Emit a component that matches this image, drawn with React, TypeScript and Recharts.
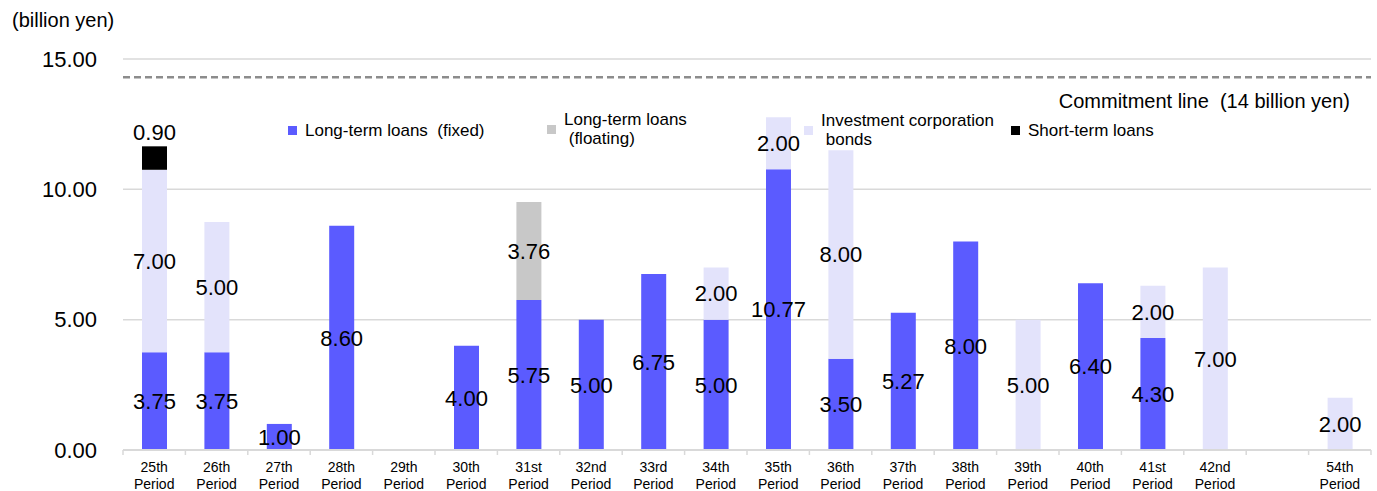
import { BarChart, Bar, XAxis, YAxis, CartesianGrid, ReferenceLine, LabelList } from 'recharts';

// period labels (blank slot between 42nd and 54th, as in the original)
const periods = ['25th', '26th', '27th', '28th', '29th', '30th', '31st', '32nd', '33rd', '34th',
  '35th', '36th', '37th', '38th', '39th', '40th', '41st', '42nd', '', '54th'];

// billion yen per period
const fixedLoans = [3.75, 3.75, 1.0, 8.6, null, 4.0, 5.75, 5.0, 6.75, 5.0,
  10.77, 3.5, 5.27, 8.0, null, 6.4, 4.3, null, null, null];
const floatingLoans = [null, null, null, null, null, null, 3.76, null, null, null,
  null, null, null, null, null, null, null, null, null, null];
const corporationBonds = [7.0, 5.0, null, null, null, null, null, null, null, 2.0,
  2.0, 8.0, null, null, 5.0, null, 2.0, 7.0, null, 2.0];
const shortTermLoans = [0.9, null, null, null, null, null, null, null, null, null,
  null, null, null, null, null, null, null, null, null, null];

const yTicks = [0, 5, 10, 15];
// the original draws the commitment line a little above the 14 mark
const commitmentLine = 14.3;

const FONT = '"Liberation Sans", Arial, sans-serif';
const W = 1377;
const H = 491;
const Y_AXIS_W = 123;
const RIGHT = 6;
const BAND = (W - Y_AXIS_W - RIGHT) / periods.length;

const colors = {
  fixed: '#5B5BFF',
  floating: '#C8C8C8',
  bonds: '#E3E3FB',
  short: '#000000',
};

const chartData = periods.map((p, i) => ({
  period: p,
  fixed: fixedLoans[i],
  floating: floatingLoans[i],
  bonds: corporationBonds[i],
  short: shortTermLoans[i],
}));

const fmt = (v: any) => (v == null ? '' : Number(v).toFixed(2));

function PeriodTick(props: any) {
  const { x, y, payload, index } = props;
  const last = index === periods.length - 1;
  return (
    <g>
      <line x1={x - BAND / 2} x2={x - BAND / 2} y1={y} y2={y + 5} stroke="#D9D9D9" strokeWidth={1.5} />
      {last && <line x1={x + BAND / 2} x2={x + BAND / 2} y1={y} y2={y + 5} stroke="#D9D9D9" strokeWidth={1.5} />}
      {payload.value && (
        <text x={x} y={y} textAnchor="middle" fontSize={14} fontFamily={FONT} fill="#000">
          <tspan x={x} dy={22}>{payload.value}</tspan>
          <tspan x={x} dy={17}>Period</tspan>
        </text>
      )}
    </g>
  );
}

function CommitmentLabel(props: any) {
  const { viewBox } = props;
  return (
    <text
      x={viewBox.x + viewBox.width - 21}
      y={viewBox.y + 31}
      textAnchor="end"
      fontSize={20}
      fontFamily={FONT}
      fill="#000"
    >
      {'Commitment line\u00a0\u00a0(14 billion yen)'}
    </text>
  );
}

const legendItems = [
  { lines: ['Long-term loans  (fixed)'], color: colors.fixed, left: 288, top: 121 },
  { lines: ['Long-term loans', '\u00a0(floating)'], color: colors.floating, left: 547, top: 110 },
  { lines: ['Investment corporation', '\u00a0bonds'], color: colors.bonds, left: 804, top: 111 },
  { lines: ['Short-term loans'], color: colors.short, left: 1011, top: 121 },
];

export default function App() {
  return (
    <div style={{ position: 'relative', width: W, height: H, fontFamily: FONT }}>
      <style>{'body{margin:0}'}</style>
      <BarChart
        width={W}
        height={H}
        data={chartData}
        margin={{ top: 59, right: RIGHT, left: 0, bottom: 0 }}
        barSize={25}
      >
        <CartesianGrid vertical={false} stroke="#D9D9D9" strokeWidth={1.5} />
        <XAxis
          dataKey="period"
          interval={0}
          height={41}
          tickSize={0}
          tickMargin={0}
          axisLine={{ stroke: '#D9D9D9', strokeWidth: 2 }}
          tick={<PeriodTick />}
        />
        <YAxis
          width={Y_AXIS_W}
          domain={[0, 15]}
          ticks={yTicks}
          axisLine={false}
          tickLine={false}
          tickMargin={20}
          tickFormatter={(v) => Number(v).toFixed(2)}
          tick={{ fontSize: 22, fill: '#000', fontFamily: FONT }}
        />
        <ReferenceLine
          y={commitmentLine}
          stroke="#8C8C8C"
          strokeWidth={2.5}
          strokeDasharray="7 4"
          label={<CommitmentLabel />}
        />
        <Bar dataKey="fixed" stackId="a" fill={colors.fixed} isAnimationActive={false}>
          <LabelList dataKey="fixed" position="center" formatter={fmt} fontSize={22} fill="#000" fontFamily={FONT} />
        </Bar>
        <Bar dataKey="floating" stackId="a" fill={colors.floating} isAnimationActive={false}>
          <LabelList dataKey="floating" position="center" formatter={fmt} fontSize={22} fill="#000" fontFamily={FONT} />
        </Bar>
        <Bar dataKey="bonds" stackId="a" fill={colors.bonds} isAnimationActive={false}>
          <LabelList dataKey="bonds" position="center" formatter={fmt} fontSize={22} fill="#000" fontFamily={FONT} />
        </Bar>
        <Bar dataKey="short" stackId="a" fill={colors.short} isAnimationActive={false}>
          <LabelList dataKey="short" position="top" offset={6} formatter={fmt} fontSize={22} fill="#000" fontFamily={FONT} />
        </Bar>
      </BarChart>

      <div style={{ position: 'absolute', left: 12, top: 9, fontSize: 20, color: '#000' }}>(billion yen)</div>

      {legendItems.map((it) => (
        <div key={it.lines[0]} style={{ position: 'absolute', left: it.left, top: it.top, display: 'flex', alignItems: 'center' }}>
          <span style={{ width: 9, height: 9, background: it.color, marginRight: 8, flex: 'none' }} />
          <div style={{ fontSize: 17, lineHeight: '19px', color: '#000', whiteSpace: 'pre' }}>
            {it.lines.map((l) => (
              <div key={l}>{l}</div>
            ))}
          </div>
        </div>
      ))}
    </div>
  );
}
